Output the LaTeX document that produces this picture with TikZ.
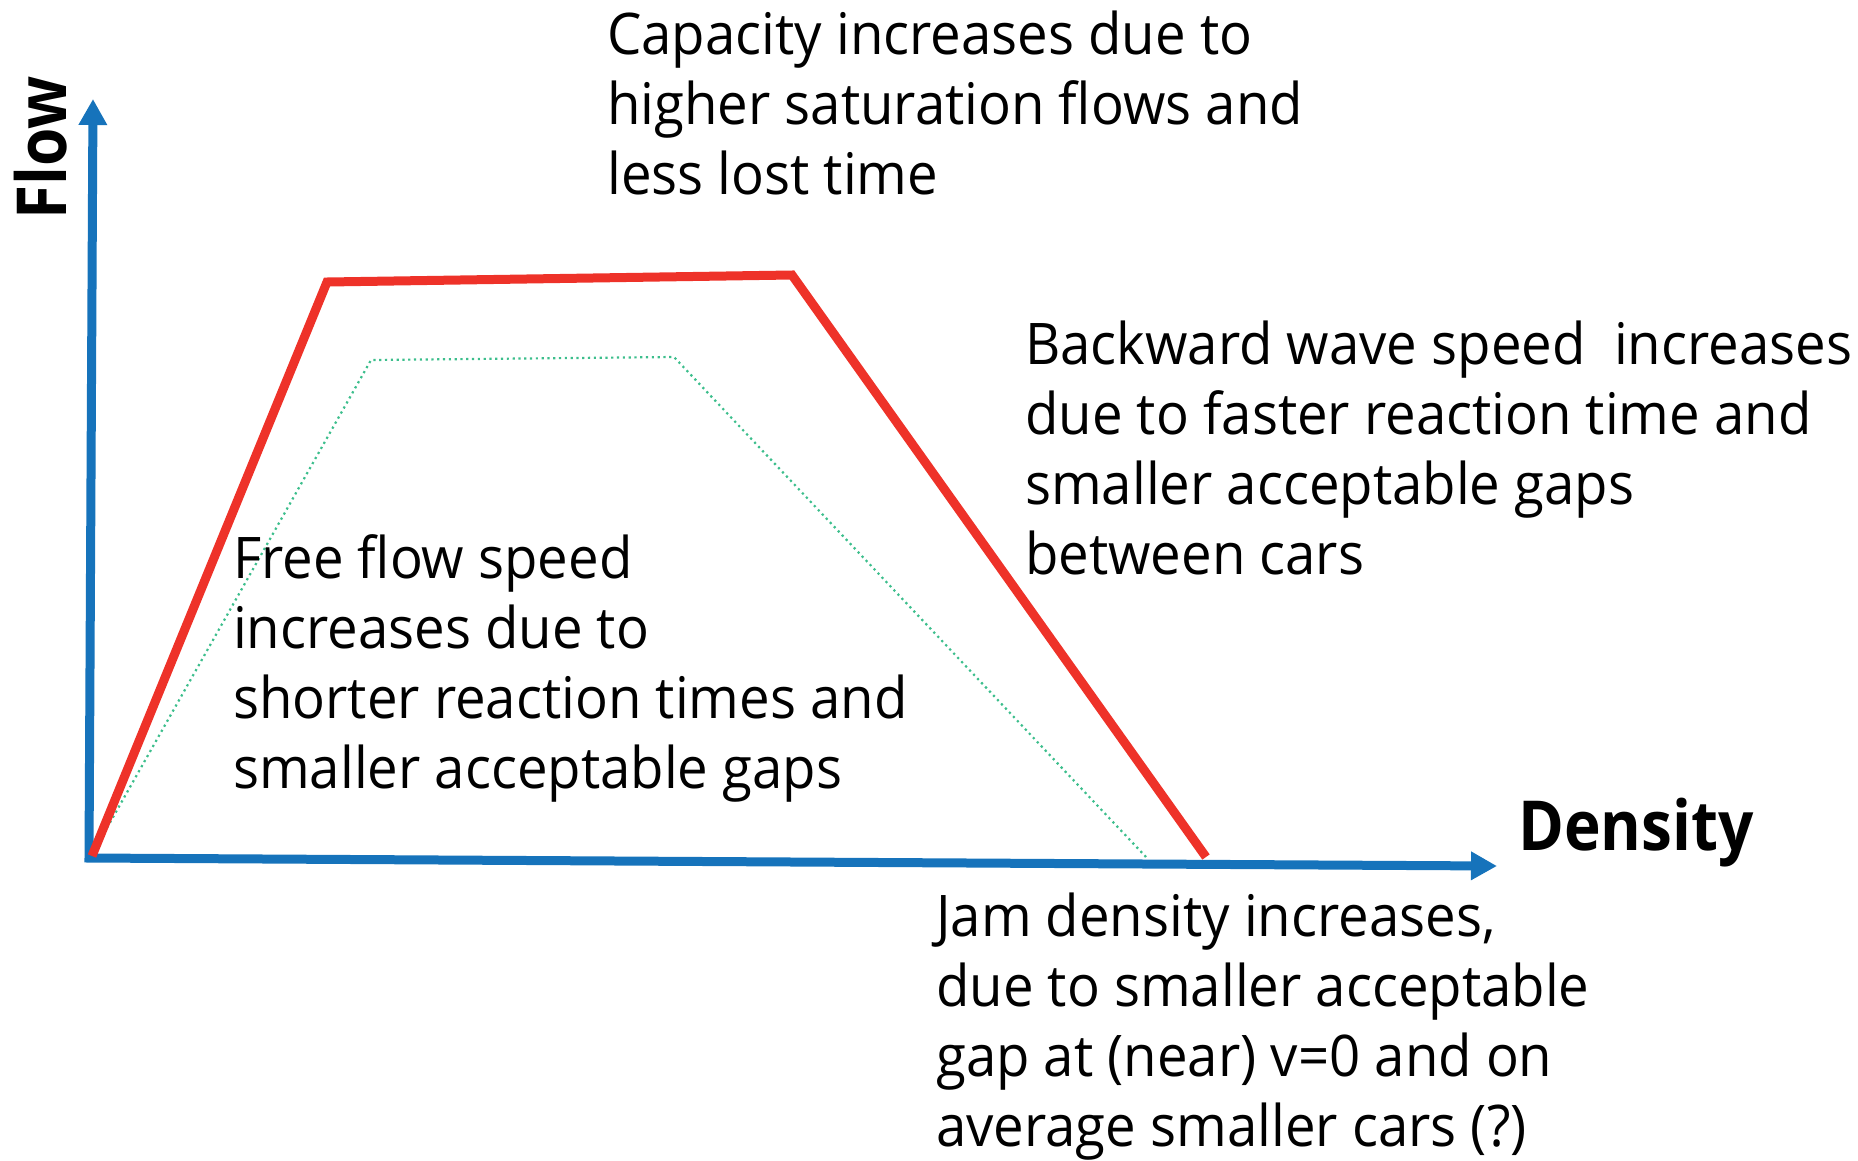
\documentclass[tikz,border=0pt]{standalone}
\usepackage{fontspec}
\setmainfont[FakeStretch=0.95]{Open Sans}
\newfontfamily\labelfont[FakeStretch=0.9]{Open Sans}
\usetikzlibrary{arrows.meta}
\definecolor{axisblue}{HTML}{1673BB}
\definecolor{curvered}{HTML}{EE3229}
\definecolor{dotgreen}{HTML}{3CBE8C}
\newcommand{\txtblock}[1]{\parbox[t]{1000pt}{\raggedright\fontsize{57.4}{70.3}\selectfont #1}}
\tikzset{
  axisline/.style={draw=axisblue, line width=9pt, line join=miter,
    {Triangle[length=26pt,width=27pt]}-{Triangle[length=26pt,width=27pt]}},
  redcurve/.style={draw=curvered, line width=9pt, line join=miter},
  greencurve/.style={draw=dotgreen, line width=2.2pt, dash pattern=on 2.2pt off 3.6pt},
  txt/.style={inner sep=0pt, anchor=base west},
  axlabel/.style={inner sep=0pt, anchor=base west, font=\labelfont\bfseries\fontsize{69}{80}\selectfont}
}
\begin{document}
\begin{tikzpicture}[x=1pt,y=-1pt]
\useasboundingbox (0,0) rectangle (1858,1160);
% axis points
\coordinate (O) at (89,858);
\coordinate (Ytip) at (93,99);
\coordinate (Xtip) at (1497,866);
% red curve points
\coordinate (R0) at (92,856);
\coordinate (R1) at (327,282);
\coordinate (R2) at (792,275);
\coordinate (R3) at (1206,857);
% green curve points
\coordinate (G0) at (90,858);
\coordinate (G1) at (371,360);
\coordinate (G2) at (674,357);
\coordinate (G3) at (1146,857);

\draw[greencurve] (G0) -- (G1) -- (G2) -- (G3);
\draw[axisline] (Ytip) -- (O) -- (Xtip);
\draw[redcurve] (R0) -- (R1) -- (R2) -- (R3);

\node[axlabel, rotate=90] (flow) at (66,220) {Flow};
\node[axlabel] (density) at (1518,850) {Density};

\node[txt] (capacity) at (607,54) {\txtblock{Capacity increases due to\\higher saturation flows and\\less lost time}};
\node[txt] (backward) at (1025,364) {\txtblock{Backward wave speed\ \ increases\\due to faster reaction time and\\smaller acceptable gaps\\between cars}};
\node[txt] (freeflow) at (233,578) {\txtblock{Free flow speed\\increases due to\\shorter reaction times and\\smaller acceptable gaps}};
\node[txt] (jam) at (936,936) {\txtblock{Jam density increases,\\due to smaller acceptable\\gap at (near) v=0 and on\\average smaller cars (?)}};
\end{tikzpicture}
\end{document}
